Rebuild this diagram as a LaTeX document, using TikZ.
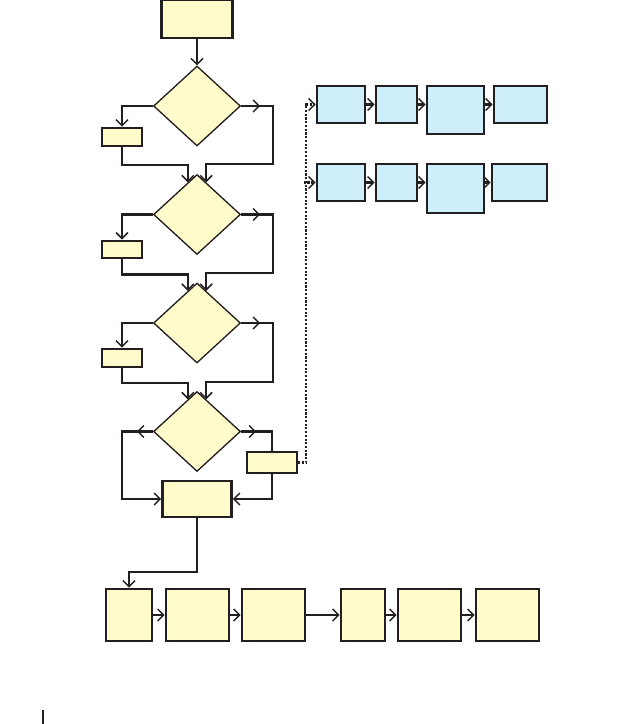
\documentclass[tikz,border=0pt]{standalone}
\usetikzlibrary{shapes.geometric,arrows.meta,calc}
\definecolor{ylw}{HTML}{FFFBCB}
\definecolor{blu}{HTML}{CDEEFA}
\definecolor{ink}{HTML}{231F20}
\begin{document}
\begin{tikzpicture}[x=0.75pt,y=-0.75pt,
  ybox/.style={draw=ink,fill=ylw,line width=1.9pt,inner sep=0pt,rectangle},
  bbox/.style={draw=ink,fill=blu,line width=1.9pt,inner sep=0pt,rectangle},
  dia/.style={draw=ink,fill=ylw,line width=1pt,inner sep=0pt,diamond,minimum width=65.25pt,minimum height=60pt},
  conn/.style={draw=ink,line width=1.6pt,-{Straight Barb[length=4.5pt,width=9pt,line width=1.1pt]}},
  line/.style={draw=ink,line width=1.6pt},
  thin/.style={draw=ink,line width=0.9pt,-{Straight Barb[length=4.5pt,width=9pt,line width=1.1pt]}},
  dots/.style={draw=ink,line width=1.8pt,dash pattern=on 1.6pt off 1.2pt},
  dconn/.style={dots,-{Straight Barb[length=4.5pt,width=9pt,line width=1.1pt]}}]
\useasboundingbox (0,0) rectangle (641,724);
% left column
\node[ybox,minimum width=53.25pt,minimum height=28.5pt] (top) at (197,19) {};
\node[dia] (d1) at (197,106) {};
\node[dia] (d2) at (197,214.5) {};
\node[dia] (d3) at (197,323) {};
\node[dia] (d4) at (197,431.5) {};
\node[ybox,minimum width=30pt,minimum height=13.5pt] (s1) at (122,137) {};
\node[ybox,minimum width=30pt,minimum height=13pt] (s2) at (122,249.5) {};
\node[ybox,minimum width=30pt,minimum height=13.5pt] (s3) at (122,358) {};
\node[ybox,minimum width=51.75pt,minimum height=27pt] (big) at (197,499) {};
\node[ybox,minimum width=37.5pt,minimum height=15.75pt] (sr) at (272,462.5) {};
% blue rows
\node[bbox,minimum width=36pt,minimum height=27.75pt] (a1) at (341,104.5) {};
\node[bbox,minimum width=30.75pt,minimum height=27.75pt] (b1) at (396.5,104.5) {};
\node[bbox,minimum width=42.75pt,minimum height=36pt] (c1) at (455.5,110) {};
\node[bbox,minimum width=39.75pt,minimum height=27.75pt] (e1) at (520.5,104.5) {};
\node[bbox,minimum width=36pt,minimum height=27.75pt] (a2) at (341,182.5) {};
\node[bbox,minimum width=30.75pt,minimum height=27.75pt] (b2) at (396.5,182.5) {};
\node[bbox,minimum width=42.75pt,minimum height=36.75pt] (c2) at (455.5,188.5) {};
\node[bbox,minimum width=41.25pt,minimum height=27.75pt] (e2) at (519.5,182.5) {};
% bottom row
\node[ybox,minimum width=34.5pt,minimum height=39pt] (r1) at (129,615) {};
\node[ybox,minimum width=47.25pt,minimum height=39pt] (r2) at (197.5,615) {};
\node[ybox,minimum width=47.25pt,minimum height=39pt] (r3) at (273.5,615) {};
\node[ybox,minimum width=33pt,minimum height=39pt] (r4) at (363,615) {};
\node[ybox,minimum width=47.25pt,minimum height=39pt] (r5) at (429.5,615) {};
\node[ybox,minimum width=47.25pt,minimum height=39pt] (r6) at (507.5,615) {};
% connectors
\draw[conn] (top.south) -- (d1.north);
\draw[conn] (d1.west) -| (s1.north);
\draw[conn] (s1.south) -- ++(0,18) -| (d2.106);
\draw[conn] (d1.east) -- ++(32,0) -- ++(0,58) -| (d2.74);
\draw[conn] (d1.east) -- ++(19,0);
\draw[conn] (d2.west) -| (s2.north);
\draw[conn] (s2.south) -- ++(0,15) -| (d3.106);
\draw[conn] (d2.east) -- ++(32,0) -- ++(0,58.5) -| (d3.74);
\draw[conn] (d2.east) -- ++(19,0);
\draw[conn] (d3.west) -| (s3.north);
\draw[conn] (s3.south) -- ++(0,15) -| (d4.106);
\draw[conn] (d3.east) -- ++(32,0) -- ++(0,59) -| (d4.74);
\draw[conn] (d3.east) -- ++(19,0);
\draw[conn] (d4.west) -- ++(-31,0) |- (big.west);
\draw[conn] (d4.west) -- ++(-16,0);
\draw[line] (d4.east) -| (sr.north);
\draw[conn] (d4.east) -- ++(15,0);
\draw[conn] (sr.south) |- (big.east);
\draw[conn] (big.south) -- ++(0,54) -| (r1.north);
% dotted link
\draw[dconn] (sr.east) -- ++(8,0) |- (a1.west);
\draw[dconn] ($(a2.west)+(-12,0)$) -- (a2.west);
% blue arrows
\draw[conn] (a1.east) -- (b1.west);
\draw[conn] (b1.east) -- (b1.east -| c1.west);
\draw[conn] (c1.east |- e1.west) -- (e1.west);
\draw[conn] (a2.east) -- (b2.west);
\draw[conn] (b2.east) -- (b2.east -| c2.west);
\draw[conn] (c2.east |- e2.west) -- (e2.west);
% bottom arrows
\draw[thin] (r1.east) -- (r2.west);
\draw[thin] (r2.east) -- (r3.west);
\draw[thin] (r3.east) -- (r4.west);
\draw[thin] (r4.east) -- (r5.west);
\draw[thin] (r5.east) -- (r6.west);
% margin mark
\coordinate (m1) at (43,710);
\coordinate (m2) at (43,724);
\draw[draw=ink,line width=0.8pt] (m1) -- (m2);
\end{tikzpicture}
\end{document}
